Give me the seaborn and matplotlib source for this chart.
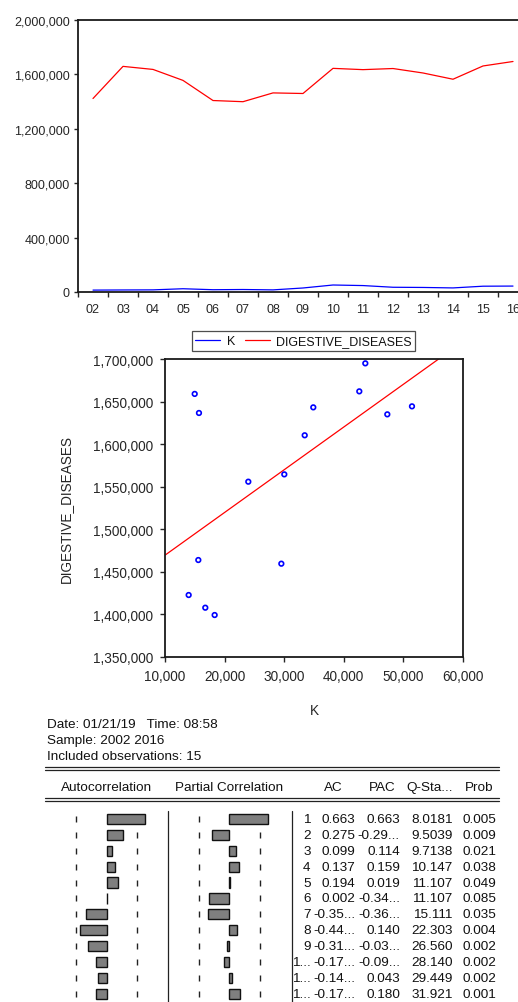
import matplotlib
matplotlib.use('Agg')
import matplotlib.pyplot as plt
import seaborn as sns
import pandas as pd
from matplotlib.lines import Line2D
from matplotlib.ticker import FuncFormatter, MultipleLocator

# ---- данные ----
years = [2002, 2003, 2004, 2005, 2006, 2007, 2008, 2009, 2010, 2011, 2012, 2013, 2014, 2015, 2016]
k_values = [13970, 14983, 15700, 23977, 16760, 18330, 15590, 29520, 51440, 47300, 34880, 33440, 30017, 42600, 43610]
digestive = [1422800, 1659000, 1636600, 1555900, 1407900, 1399300, 1463900, 1459600,
             1644400, 1635000, 1643200, 1610400, 1564500, 1662000, 1694900]

lags = [1, 2, 3, 4, 5, 6, 7, 8, 9, 10, 11, 12]
lag_text = ['1', '2', '3', '4', '5', '6', '7', '8', '9', '1...', '1...', '1...']
ac = [0.663, 0.275, 0.099, 0.137, 0.194, 0.002, -0.358, -0.446, -0.318, -0.178, -0.147, -0.175]
pac = [0.663, -0.295, 0.114, 0.159, 0.019, -0.345, -0.365, 0.140, -0.035, -0.095, 0.043, 0.180]
ac_text = ['0.663', '0.275', '0.099', '0.137', '0.194', '0.002', '-0.35...', '-0.44...',
           '-0.31...', '-0.17...', '-0.14...', '-0.17...']
pac_text = ['0.663', '-0.29...', '0.114', '0.159', '0.019', '-0.34...', '-0.36...', '0.140',
            '-0.03...', '-0.09...', '0.043', '0.180']
q_stat = ['8.0181', '9.5039', '9.7138', '10.147', '11.107', '11.107', '15.111', '22.303',
          '26.560', '28.140', '29.449', '31.921']
prob = ['0.005', '0.009', '0.021', '0.038', '0.049', '0.085', '0.035', '0.004', '0.002',
        '0.002', '0.002', '0.001']
conf_bound = 0.52

sns.set_style('ticks')
plt.rcParams['font.family'] = ['Liberation Sans', 'DejaVu Sans']
plt.rcParams['text.color'] = '#111111'

W, H = 518, 1003
fig = plt.figure(figsize=(W / 100, H / 100), dpi=100)


def rect(left, top, right, bottom):
    return [left / W, 1 - bottom / H, (right - left) / W, (bottom - top) / H]


comma = FuncFormatter(lambda v, p: f'{v:,.0f}')

# ---- линейный график ----
ax_top = fig.add_axes(rect(78, 21, 528, 293))
df = pd.DataFrame({'year': years, 'K': k_values, 'DIGESTIVE_DISEASES': digestive})
long_df = df.melt(id_vars='year', var_name='series', value_name='value')
sns.lineplot(data=long_df, x='year', y='value', hue='series',
             palette={'K': '#0000ff', 'DIGESTIVE_DISEASES': '#ff0000'},
             linewidth=0.9, legend=False, ax=ax_top)
ax_top.set_xlim(years[0] - 0.5, years[-1] + 0.5)
ax_top.set_ylim(0, 2000000)
ax_top.yaxis.set_major_locator(MultipleLocator(400000))
ax_top.yaxis.set_major_formatter(comma)
ax_top.set_xticks(years)
ax_top.set_xticklabels([f'{y % 100:02d}' for y in years])
ax_top.set_xticks([y - 0.5 for y in years] + [years[-1] + 0.5], minor=True)
ax_top.tick_params(axis='x', which='major', length=0, pad=8, labelsize=9)
ax_top.tick_params(axis='x', which='minor', length=3.5, width=1, direction='out')
ax_top.tick_params(axis='y', length=3, width=1, pad=3, labelsize=9)
ax_top.set_xlabel('')
ax_top.set_ylabel('')
ax_top.spines['right'].set_visible(False)
for s in ['left', 'top', 'bottom']:
    ax_top.spines[s].set_linewidth(1.3)
    ax_top.spines[s].set_color('#1a1a1a')

handles = [Line2D([], [], color='#0000ff', lw=0.9), Line2D([], [], color='#ff0000', lw=0.9)]
leg = fig.legend(handles, ['K', 'DIGESTIVE_DISEASES'], ncol=2, loc='center',
                 bbox_to_anchor=(303.5 / W, 1 - 342 / H), fontsize=9, frameon=True,
                 fancybox=False, edgecolor='#222222', handlelength=2.0, handletextpad=0.5,
                 columnspacing=0.8, borderpad=0.3)
leg.get_frame().set_linewidth(0.9)

# ---- диаграмма рассеяния ----
ax_sc = fig.add_axes(rect(165, 360, 463, 658))
ax_sc.set_xlim(10000, 60000)
ax_sc.set_ylim(1350000, 1700000)
sns.regplot(x=k_values, y=digestive, scatter=False, ci=None, truncate=False,
            color='#ff0000', line_kws={'linewidth': 0.9}, ax=ax_sc)
sns.scatterplot(x=k_values, y=digestive, marker='o', s=11, facecolor='none',
                edgecolor='#0000ff', linewidth=1.2, ax=ax_sc, zorder=3)
ax_sc.set_xlim(10000, 60000)
ax_sc.set_ylim(1350000, 1700000)
ax_sc.xaxis.set_major_locator(MultipleLocator(10000))
ax_sc.yaxis.set_major_locator(MultipleLocator(50000))
ax_sc.xaxis.set_major_formatter(comma)
ax_sc.yaxis.set_major_formatter(comma)
ax_sc.tick_params(length=3.5, width=1, pad=5, labelsize=9.8)
for s in ax_sc.spines.values():
    s.set_linewidth(1.3)
    s.set_color('#1a1a1a')
ax_sc.set_xlabel('K', fontsize=9.8)
ax_sc.set_ylabel('DIGESTIVE_DISEASES', fontsize=9.8)
ax_sc.xaxis.set_label_coords(0.5, -0.153)
ax_sc.yaxis.set_label_coords(-0.31, 0.5)

# ---- коррелограмма ----
y_lo, y_hi = 11.51, -0.52
for vals, left in [(ac, 48), (pac, 170.8)]:
    ax_b = fig.add_axes(rect(left, 811.7, left + 117, H))
    ax_b.vlines([-conf_bound] * len(lags), [i - 0.19 for i in range(len(lags))],
                [i + 0.19 for i in range(len(lags))], color='#222222', lw=1, zorder=0)
    ax_b.vlines([conf_bound] * len(lags), [i - 0.19 for i in range(len(lags))],
                [i + 0.19 for i in range(len(lags))], color='#222222', lw=1, zorder=0)
    sns.barplot(x=vals, y=lags, orient='h', color='#7f7f7f', saturation=1,
                edgecolor='#111111', linewidth=1, width=0.64, ax=ax_b, zorder=2)
    ax_b.set_xlim(-1, 1)
    ax_b.set_ylim(y_lo, y_hi)
    ax_b.axis('off')

# подписи и линии таблицы
ax_t = fig.add_axes([0, 0, 1, 1])
ax_t.set_xlim(0, W)
ax_t.set_ylim(H, 0)
ax_t.axis('off')
fs = 9.7
ax_t.text(47, 725, 'Date: 01/21/19   Time: 08:58', fontsize=fs, va='center')
ax_t.text(47, 741, 'Sample: 2002 2016', fontsize=fs, va='center')
ax_t.text(47, 757, 'Included observations: 15', fontsize=fs, va='center')
for yy in [768.3, 771, 799, 801.7]:
    ax_t.plot([45, 499], [yy, yy], color='#222222', lw=0.9)
for label, xc in [('Autocorrelation', 107), ('Partial Correlation', 229.2), ('AC', 333.3),
                  ('PAC', 381.7), ('Q-Sta...', 430), ('Prob', 479)]:
    ax_t.text(xc, 788, label, fontsize=fs, ha='center', va='center')
for xx in [168.3, 291.7]:
    ax_t.plot([xx, xx], [811.7, H], color='#222222', lw=0.9)
for i in range(len(lags)):
    yy = 820 + 15.9 * i
    for txt, xr in [(lag_text[i], 310.7), (ac_text[i], 355.7), (pac_text[i], 400),
                    (q_stat[i], 452.7), (prob[i], 496.7)]:
        ax_t.text(xr, yy, txt, fontsize=fs, ha='right', va='center')

fig.savefig('out.png', dpi=100)
